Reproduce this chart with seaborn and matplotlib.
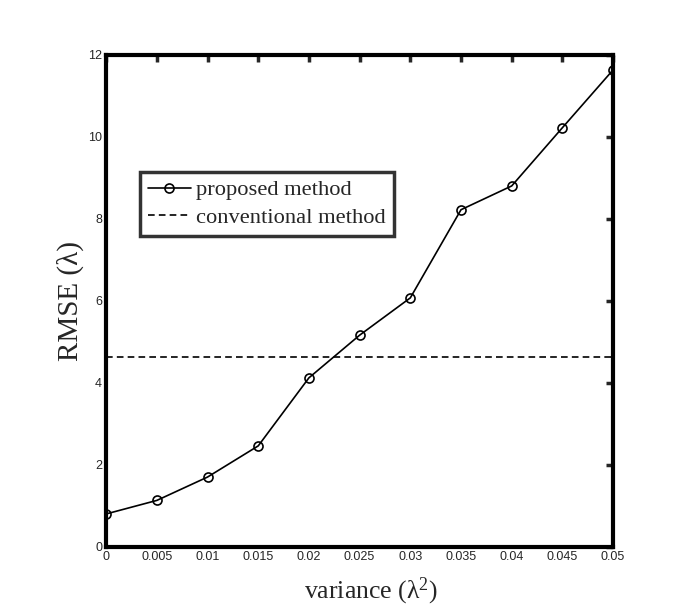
import matplotlib
matplotlib.use("Agg")
import matplotlib.pyplot as plt
import seaborn as sns
import pandas as pd

variance = [0, 0.005, 0.01, 0.015, 0.02, 0.025, 0.03, 0.035, 0.04, 0.045, 0.05]
rmse_proposed = [0.8, 1.13, 1.7, 2.46, 4.12, 5.16, 6.07, 8.22, 8.8, 10.22, 11.63]
rmse_conventional = 4.63
xticks = [0, 0.005, 0.01, 0.015, 0.02, 0.025, 0.03, 0.035, 0.04, 0.045, 0.05]
xticklabels = ["0", "0.005", "0.01", "0.015", "0.02", "0.025", "0.03", "0.035", "0.04", "0.045", "0.05"]
yticks = [0, 2, 4, 6, 8, 10, 12]

sns.set_style("white")
plt.rcParams['font.family'] = ['Liberation Sans', 'DejaVu Sans']
plt.rcParams['mathtext.fontset'] = 'stix'

fig = plt.figure(figsize=(6.85, 6.15), dpi=100)
ax = fig.add_axes([0.155, 0.111, 0.740, 0.800])

df = pd.DataFrame({"variance": variance, "rmse": rmse_proposed})
sns.lineplot(data=df, x="variance", y="rmse", ax=ax, color="black", lw=1.2,
             marker="o", markersize=6.5, markerfacecolor="none",
             markeredgecolor="black", markeredgewidth=1.2,
             label="proposed method")
ax.axhline(rmse_conventional, color="black", lw=1.2, ls=(0, (4, 2.5)),
           label="conventional method")

ax.set_xlim(0, 0.05)
ax.set_ylim(0, 12)
ax.set_xticks(xticks)
ax.set_xticklabels(xticklabels)
ax.set_yticks(yticks)
ax.tick_params(direction="in", length=5, width=2.5, labelsize=9,
               top=True, right=True, pad=3)
for lbl in ax.get_xticklabels() + ax.get_yticklabels():
    lbl.set_fontstretch("condensed")
for s in ax.spines.values():
    s.set_linewidth(3)
    s.set_color("black")

serif = ['Liberation Serif', 'DejaVu Serif']
ax.set_xlabel(r"variance (λ$\mathregular{^2}$)", fontsize=18.5, family=serif, labelpad=9)
ax.set_ylabel("RMSE (λ)", fontsize=21, family=serif, labelpad=3)
ax.xaxis.label.set_x(0.523)

leg = ax.legend(loc="upper left", bbox_to_anchor=(0.067, 0.762),
                prop={'family': serif, 'size': 16.2}, frameon=True,
                fancybox=False, borderpad=0.35, handlelength=1.9,
                handletextpad=0.25, labelspacing=0.3, borderaxespad=0)
leg.get_frame().set_edgecolor("black")
leg.get_frame().set_linewidth(2.5)

fig.savefig("out.png", dpi=100)
